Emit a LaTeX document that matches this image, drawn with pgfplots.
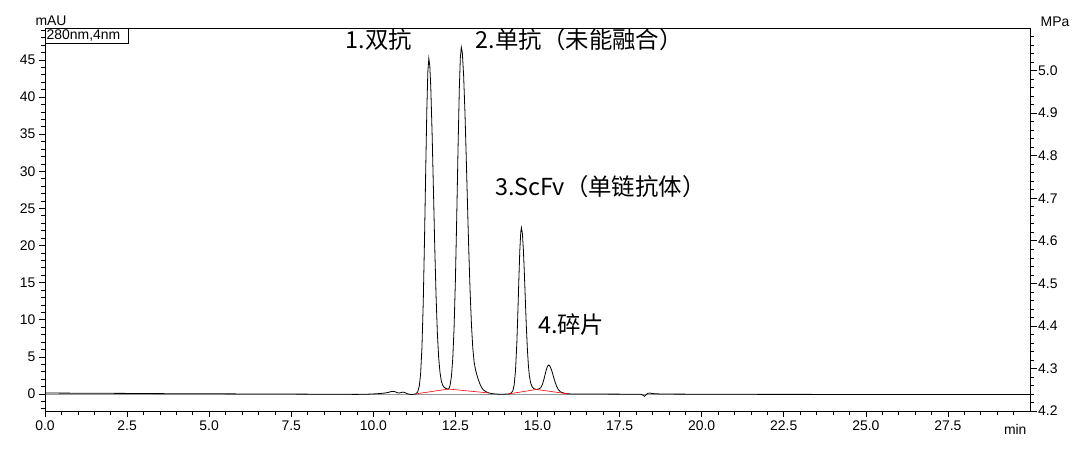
\documentclass[border=0pt]{standalone}
\usepackage{fontspec}
\setmainfont{Liberation Sans}
\newfontfamily\cjk{Noto Sans CJK SC}
\usepackage{pgfplots}
\pgfplotsset{compat=1.18}
\begin{document}
\begin{tikzpicture}
\pgfplotsset{
  common/.style={
    at={(0,0)}, anchor=south west,
    scale only axis, width=985bp, height=383bp,
    xmin=0, xmax=30, clip=false,
    tick align=outside,
    major tick length=6bp, minor tick length=4bp,
    tick style={black, line width=0.6bp},
    axis line style={black, line width=0.8bp},
    tick label style={font=\fontsize{14}{16}\selectfont, black},
    /pgf/number format/assume math mode=true,
  }
}
% right axis: pressure
\begin{axis}[common,
  axis x line=none, axis y line*=right,
  ymin=4.2, ymax=5.1,
  ytick={4.2,4.3,4.4,4.5,4.6,4.7,4.8,4.9,5.0},
  minor ytick={4.22,4.24,4.26,4.28,4.32,4.34,4.36,4.38,4.42,4.44,4.46,4.48,4.52,4.54,4.56,4.58,4.62,4.64,4.66,4.68,4.72,4.74,4.76,4.78,4.82,4.84,4.86,4.88,4.92,4.94,4.96,4.98,5.02,5.04,5.06,5.08},
  major tick length=7bp,
  yticklabel style={/pgf/number format/.cd, fixed, fixed zerofill, precision=1, /tikz/.cd, inner sep=1bp},
]
\addplot[gray!80, line width=0.9bp] coordinates {(0,4.238) (30,4.238)};
\node[anchor=base, font=\fontsize{14}{16}\selectfont] at (rel axis cs:1,1) [xshift=25bp, yshift=2bp] {MPa};
\end{axis}
% left axis: absorbance
\begin{axis}[common,
  ymin=-2.3, ymax=49.3,
  xtick pos=lower, ytick pos=left,
  xtick={0,2.5,5,7.5,10,12.5,15,17.5,20,22.5,25,27.5},
  minor xtick={0.5,1,1.5,2,3,3.5,4,4.5,5.5,6,6.5,7,8,8.5,9,9.5,10.5,11,11.5,12,13,13.5,14,14.5,15.5,16,16.5,17,18,18.5,19,19.5,20.5,21,21.5,22,23,23.5,24,24.5,25.5,26,26.5,27,28,28.5,29,29.5},
  xticklabel style={/pgf/number format/.cd, fixed, fixed zerofill, precision=1},
  ytick={0,5,10,15,20,25,30,35,40,45},
  minor ytick={-2,-1,1,2,3,4,6,7,8,9,11,12,13,14,16,17,18,19,21,22,23,24,26,27,28,29,31,32,33,34,36,37,38,39,41,42,43,44,46,47,48,49},
]
\addplot[black, line width=0.8bp] coordinates {
(0,0.12)(0.5,0.11)(1,0.1)(1.5,0.09)(2,0.08)(2.5,0.07)(3,0.05)(3.5,0.04)(4,0.03)(4.5,0.03)(5,0.02)(5.5,0.01)(6,0)(6.5,-0.01)(7,-0.02)(7.5,-0.02)(8,-0.03)(8.5,-0.04)(9,-0.05)(9.5,-0.06)(9.8,-0.04)(10.0,0.0)(10.2,0.05)(10.35,0.12)(10.45,0.2)(10.55,0.32)(10.6,0.35)(10.66,0.3)(10.72,0.18)(10.78,0.12)(10.84,0.18)(10.9,0.25)(10.96,0.18)(11.02,0.05)(11.1,-0.05)(11.18,-0.08)(11.25,-0.03)(11.29,0.0)
(11.35,0.26)(11.40,1.04)(11.44,2.7)(11.48,6.2)(11.52,12.3)(11.56,21.1)(11.60,31.3)(11.63,38.4)(11.66,43.4)(11.69,45.2)(11.72,44.2)(11.75,41.3)(11.79,35.1)(11.83,27.6)(11.87,19.9)(11.91,13.3)(11.95,8.2)(11.99,4.9)(12.03,2.9)(12.07,1.75)(12.11,1.2)(12.15,0.92)(12.20,0.76)(12.25,0.68)(12.29,0.66)
(12.32,0.9)(12.34,1.21)(12.38,2.41)(12.42,4.82)(12.46,9.0)(12.50,15.4)(12.54,23.8)(12.58,33.1)(12.62,41.3)(12.65,45.3)(12.68,46.7)(12.71,46.0)(12.75,42.9)(12.79,38.0)(12.83,31.8)(12.87,25.2)(12.91,18.9)(12.95,13.5)(12.99,9.2)(13.03,6.1)(13.07,4.3)(13.11,3.3)(13.15,2.6)(13.20,1.9)(13.25,1.3)(13.30,0.85)(13.35,0.55)(13.40,0.38)(13.45,0.25)(13.52,0.13)(13.6,0.05)(13.7,0.0)(13.8,-0.03)(13.9,-0.04)(14.0,-0.03)(14.08,-0.01)(14.12,0.0)
(14.16,0.03)(14.20,0.12)(14.25,0.43)(14.29,1.23)(14.33,3.14)(14.37,6.77)(14.40,10.67)(14.43,15.1)(14.46,19.2)(14.49,21.8)(14.51,22.4)(14.54,21.6)(14.57,19.4)(14.60,16.2)(14.63,12.6)(14.66,9.1)(14.69,6.2)(14.72,4.0)(14.75,2.5)(14.79,1.5)(14.83,1.02)(14.87,0.78)(14.92,0.65)(14.97,0.6)
(15.00,0.63)(15.05,0.7)(15.10,0.85)(15.15,1.28)(15.20,2.03)(15.25,2.96)(15.30,3.70)(15.34,3.90)(15.38,3.74)(15.43,3.19)(15.48,2.43)(15.53,1.67)(15.58,1.04)(15.63,0.61)(15.70,0.28)(15.80,0.11)(15.90,0.03)(16.0,0.0)
(16.5,-0.02)(17.0,-0.02)(17.5,-0.03)(18.0,-0.03)(18.15,-0.05)(18.22,-0.2)(18.26,-0.32)(18.30,-0.15)(18.36,0.08)(18.42,0.12)(18.5,0.05)(18.7,0.0)(19,-0.02)(20,-0.04)(21,-0.05)(22,-0.06)(23,-0.06)(24,-0.07)(25,-0.07)(26,-0.08)(27,-0.08)(28,-0.08)(29,-0.09)(30,-0.09)
};
\addplot[red, line width=0.6bp] coordinates {(11.29,0)(12.29,0.66)(13.52,0.13)};
\addplot[red, line width=0.6bp] coordinates {(14.12,0)(14.97,0.6)(15.95,0)};
% annotations
\node[anchor=base west, font=\fontsize{23.5}{26}\cjk, inner sep=0] at (axis cs:9.16,46.6) {1.双抗};
\node[anchor=base west, font=\fontsize{23.5}{26}\cjk, inner sep=0] at (axis cs:13.12,46.6) {2.单抗（未能融合）};
\node[anchor=base west, font=\fontsize{23.5}{26}\cjk, inner sep=0] at (axis cs:13.70,26.7) {3.ScFv（单链抗体）};
\node[anchor=base west, font=\fontsize{23.5}{26}\cjk, inner sep=0] at (axis cs:15.01,8.2) {4.碎片};
\draw[black, line width=0.8bp] (rel axis cs:0,1) rectangle ++(83bp,-15bp);
\node[anchor=west, inner sep=0, font=\fontsize{14}{16}\selectfont] at (rel axis cs:0,1) [xshift=1.5bp, yshift=-7.5bp] {280nm,4nm};
\node[anchor=base, font=\fontsize{14}{16}\selectfont] at (rel axis cs:0,1) [xshift=6bp, yshift=2bp] {mAU};
\node[anchor=base east, font=\fontsize{14}{16}\selectfont] at (rel axis cs:1,0) [yshift=-23bp] {min};
\end{axis}
\pgfresetboundingbox
\path[use as bounding box] (-45bp,-45bp) rectangle (1035bp,411bp);
\end{tikzpicture}
\end{document}
